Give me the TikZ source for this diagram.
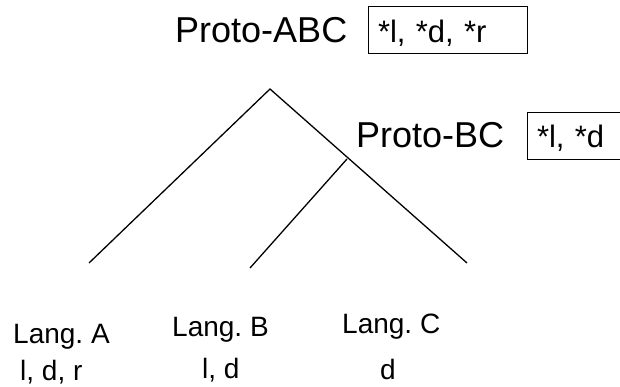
\documentclass[tikz,border=0pt]{standalone}
\usepackage{fontspec}
\setmainfont{Liberation Sans}
\frenchspacing

\tikzset{
  proto/.style={anchor=base west, inner sep=0pt, font=\fontsize{36}{40}\selectfont},
  reflexbox/.style={draw, line width=1pt, anchor=base west, outer sep=0pt,
    inner xsep=10pt, inner ysep=3pt, align=left, font=\fontsize{31}{36}\selectfont},
  lang/.style={anchor=base west, inner sep=0pt, font=\fontsize{28}{32}\selectfont},
  branch/.style={line width=1.3pt}
}

\begin{document}
\begin{tikzpicture}[x=1pt, y=-1pt]
    \useasboundingbox (0,0) rectangle (620,387);
    \clip (0,0) rectangle (620,387);

    % Proto-languages and their reconstructions
    \node[proto] (protoABC) at (175,43) {Proto-ABC};
    \node[reflexbox, text width=139pt, text height=33pt, text depth=8pt] (boxABC) at (368,43) {*l, *d, *r};

    \node[proto] (protoBC) at (356,148) {Proto-BC};
    \node[reflexbox, text width=80pt, text height=32pt, text depth=9pt] (boxBC) at (527,148) {*l, *d};

    % Draw the tree
    \coordinate (root) at (270,89);
    \coordinate (leafA) at (89,263);
    \coordinate (leafC) at (467,263);
    \coordinate (split) at (347,159);
    \coordinate (leafB) at (250,268);
    \draw[branch] (leafA) -- (root) -- (leafC);
    \draw[branch] (split) -- (leafB);

    % Daughter languages and their reflexes
    \foreach \n/\x/\y/\txt in {langA/13/343/Lang. A, langB/172/336/Lang. B, langC/342/333/Lang. C,
                               refA/20/380/{l, d, r}, refB/202/378/{l, d}, refC/380/379/d} {
        \node[lang] (\n) at (\x,\y) {\txt};
    }

\end{tikzpicture}
\end{document}
